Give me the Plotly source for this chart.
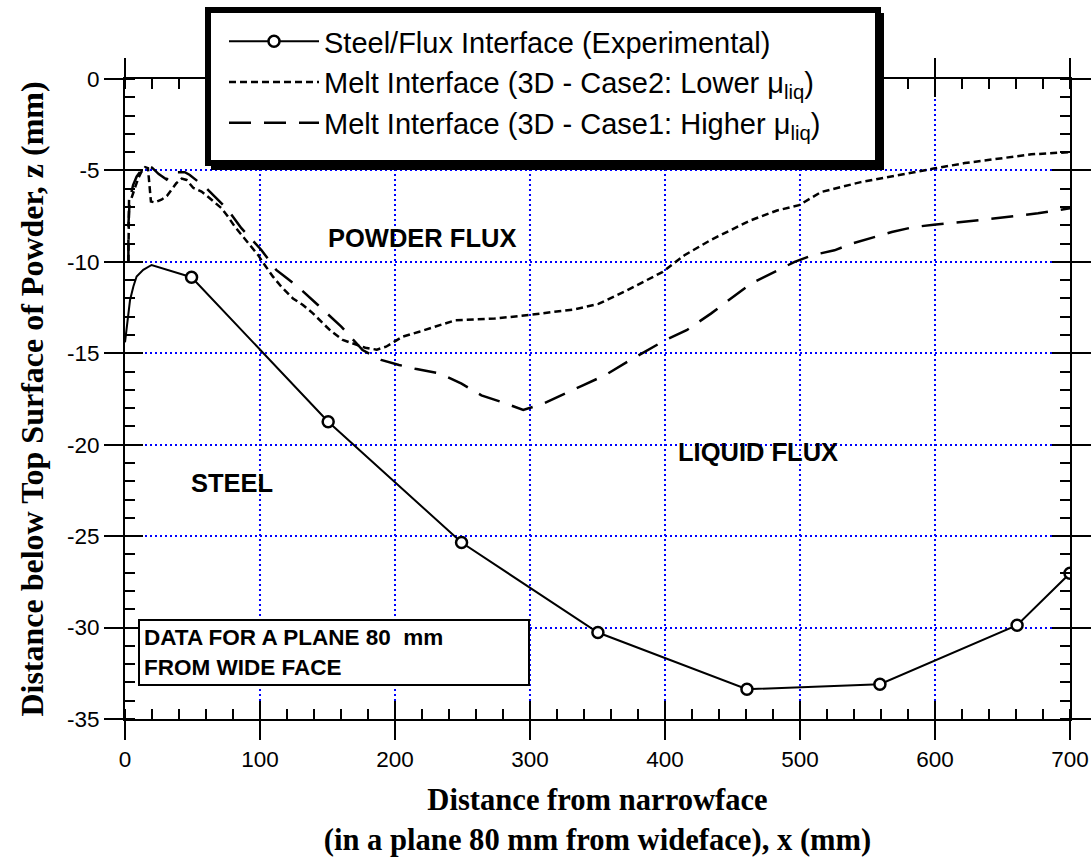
import plotly.graph_objects as go

# ---------------- data ----------------
# Experimental steel/flux interface: smooth lead-in near the narrow face, then measured points
exp_lead_x = [0.0, 1.7, 3.7, 6.2, 8.6, 13.5, 19.7, 49.3]
exp_lead_y = [-14.4, -13.2, -12.1, -11.35, -10.8, -10.44, -10.17, -10.84]
exp_x = [49.3, 150.5, 249.3, 350.3, 460.7, 559.2, 660.8, 700.0]
exp_y = [-10.84, -18.74, -25.35, -30.27, -33.37, -33.1, -29.87, -27.03]

# Melt interface, 3D Case2 (lower viscosity)
case2_x = [2.5, 2.5, 3.0, 4.4, 6.5, 9.8, 12.0, 15.0, 17.0, 19.2, 22.0, 27.0, 31.0, 34.5, 38.0,
           42.0, 45.6, 50.5, 56.7, 62.8, 71.5, 76.3, 81.3, 87.4, 93.6, 98.5, 103.5, 109.6,
           115.8, 124.4, 131.8, 139.0, 146.6, 152.8, 161.3, 171.2, 178.0, 186.5, 193.4, 199.6,
           205.7, 218.0, 244.4, 273.9, 300.0, 332.7, 350.7, 372.0, 398.0, 414.4, 434.0, 463.4,
           483.0, 499.3, 515.7, 545.0, 571.0, 599.0, 622.0, 646.7, 671.3, 700.0]
case2_y = [-10.0, -8.3, -6.6, -6.6, -6.1, -5.43, -5.1, -4.82, -4.87, -6.7, -6.75, -6.6, -6.4,
           -6.03, -5.7, -5.45, -5.52, -5.95, -6.16, -6.52, -7.07, -7.53, -8.07, -8.62, -9.17,
           -9.62, -10.17, -10.81, -11.36, -12.0, -12.36, -12.8, -13.36, -13.8, -14.27, -14.54,
           -14.7, -14.8, -14.64, -14.36, -14.09, -13.82, -13.2, -13.1, -12.9, -12.6, -12.3,
           -11.55, -10.56, -9.64, -8.8, -7.73, -7.19, -6.9, -6.18, -5.64, -5.27, -4.9, -4.6,
           -4.34, -4.12, -4.0]

# Melt interface, 3D Case1 (higher viscosity)
case1_x = [2.5, 2.5, 3.5, 6.0, 8.6, 12.0, 16.0, 20.0, 25.0, 30.8, 35.0, 44.3, 48.0, 60.4, 76.3,
           86.2, 101.0, 112.0, 120.0, 129.3, 142.9, 160.2, 176.0, 189.7, 203.0, 215.0, 233.0,
           249.3, 264.0, 280.4, 295.0, 309.8, 339.2, 355.6, 372.0, 385.0, 399.7, 416.0, 434.0,
           463.4, 478.0, 496.0, 509.0, 525.5, 538.5, 568.0, 584.0, 599.0, 634.4, 676.3, 700.0]
case1_y = [-10.0, -8.0, -6.6, -5.8, -5.34, -5.0, -4.79, -4.85, -5.2, -5.5, -5.1, -5.1, -5.25,
           -5.98, -7.16, -8.16, -9.35, -10.44, -10.9, -11.44, -12.36, -13.54, -14.82, -15.36,
           -15.64, -15.85, -16.1, -16.66, -17.3, -17.7, -18.1, -17.75, -16.75, -16.2, -15.47,
           -14.93, -14.3, -13.74, -12.83, -11.2, -10.65, -10.0, -9.64, -9.37, -9.0, -8.37,
           -8.1, -7.97, -7.71, -7.34, -7.07]

series_names = [
    "Steel/Flux Interface (Experimental)",
    "Melt Interface (3D - Case2: Lower \u03bc<sub>liq</sub>)",
    "Melt Interface (3D - Case1: Higher \u03bc<sub>liq</sub>)",
]

x_tick_vals = [0, 100, 200, 300, 400, 500, 600, 700]
x_tick_text = ["0", "100", "200", "300", "400", "500", "600", "700"]
y_tick_vals = [-35, -30, -25, -20, -15, -10, -5, 0]
y_tick_text = ["-35", "-30", "-25", "-20", "-15", "-10", "-5", "0"]

x_title = "Distance from narrowface<br>(in a plane 80 mm from wideface), x (mm)"
y_title = "Distance below Top Surface of Powder, z (mm)"

region_labels = ["POWDER FLUX", "LIQUID FLUX", "STEEL"]
region_x = [220, 469, 79]
region_y = [-8.7, -20.4, -22.1]
note_text = "DATA FOR A PLANE 80  mm<br>FROM WIDE FACE"

# ---------------- figure ----------------
W, H = 1092, 863
ML, MR, MT, MB = 125, 22, 79, 144
PW, PH = W - ML - MR, H - MT - MB


def px2paper_x(px):
    return (px - ML) / PW


def px2paper_y(py):
    return 1 - (py - MT) / PH


fig = go.Figure()

fig.add_trace(go.Scatter(
    x=exp_lead_x, y=exp_lead_y, mode="lines",
    line=dict(color="black", width=2), showlegend=False, legendgroup="exp",
    hoverinfo="skip"))
fig.add_trace(go.Scatter(
    x=exp_x, y=exp_y, mode="lines+markers", name=series_names[0], legendgroup="exp",
    line=dict(color="black", width=2),
    marker=dict(symbol="circle", size=11, color="white", line=dict(color="black", width=2.5))))
fig.add_trace(go.Scatter(
    x=case2_x, y=case2_y, mode="lines", name=series_names[1],
    line=dict(color="black", width=2.5, dash="7px,4px")))
fig.add_trace(go.Scatter(
    x=case1_x, y=case1_y, mode="lines", name=series_names[2],
    line=dict(color="black", width=2.5, dash="22px,13px")))
# empty trace that carries the inner half of the crossing major ticks
fig.add_trace(go.Scatter(x=[], y=[], xaxis="x2", yaxis="y2", showlegend=False,
                         hoverinfo="skip"))

tick_font = dict(family="Liberation Sans, Arial, sans-serif", size=22.5, color="black")
grid_common = dict(showgrid=True, gridcolor="#0000FF", griddash="2px,3px", gridwidth=2)

fig.update_layout(
    template="none",
    width=W, height=H,
    margin=dict(l=ML, r=MR, t=MT, b=MB, pad=0),
    paper_bgcolor="white", plot_bgcolor="white",
    font=dict(family="Liberation Sans, Arial, sans-serif", color="black"),
    xaxis=dict(
        range=[0, 700], tickmode="array", tickvals=x_tick_vals, ticktext=x_tick_text,
        ticks="outside", ticklen=19, tickwidth=2, tickcolor="black", automargin=False,
        ticklabeloverflow="allow",
        showline=True, linewidth=2, linecolor="black", mirror="ticks",
        zeroline=False, tickfont=tick_font, **grid_common,
        minor=dict(ticks="inside", tickmode="linear", tick0=0, dtick=20, ticklen=10,
                   tickwidth=2, tickcolor="black", showgrid=False),
        title=dict(text=x_title, standoff=18,
                   font=dict(family="Liberation Serif, Times New Roman, serif", size=30.6,
                             weight="bold", color="black")),
    ),
    yaxis=dict(
        range=[-35, 0], tickmode="array", tickvals=y_tick_vals, ticktext=y_tick_text,
        ticks="outside", ticklen=19, tickwidth=2, tickcolor="black", automargin=False,
        ticklabeloverflow="allow",
        showline=True, linewidth=2, linecolor="black", mirror="ticks",
        zeroline=False, tickfont=tick_font, **grid_common,
        minor=dict(ticks="inside", tickmode="linear", tick0=0, dtick=1, ticklen=10,
                   tickwidth=2, tickcolor="black", showgrid=False),
        title=dict(text=y_title, standoff=14,
                   font=dict(family="Liberation Serif, Times New Roman, serif", size=32,
                             weight="bold", color="black")),
    ),
    xaxis2=dict(
        overlaying="x", anchor="y2", range=[0, 700], tickmode="array", tickvals=x_tick_vals,
        ticks="inside", ticklen=18, tickwidth=2, tickcolor="black", showticklabels=False,
        showline=False, showgrid=False, zeroline=False, mirror="ticks", automargin=False,
    ),
    yaxis2=dict(
        overlaying="y", anchor="x2", range=[-35, 0], tickmode="array", tickvals=y_tick_vals,
        ticks="inside", ticklen=18, tickwidth=2, tickcolor="black", showticklabels=False,
        showline=False, showgrid=False, zeroline=False, mirror="ticks", automargin=False,
    ),
    legend=dict(
        x=px2paper_x(224), y=px2paper_y(16), xanchor="left", yanchor="top",
        bgcolor="rgba(0,0,0,0)", borderwidth=0, itemwidth=90, traceorder="normal",
        font=dict(family="Liberation Sans, Arial, sans-serif", size=29, color="black"),
    ),
    showlegend=True,
)

# legend frame with drop shadow
fig.add_shape(type="rect", xref="paper", yref="paper", layer="above",
              x0=px2paper_x(211), x1=px2paper_x(884), y0=px2paper_y(170), y1=px2paper_y(13),
              fillcolor="black", line=dict(width=0))
fig.add_shape(type="rect", xref="paper", yref="paper", layer="above",
              x0=px2paper_x(208), x1=px2paper_x(878), y0=px2paper_y(163), y1=px2paper_y(10),
              fillcolor="white", line=dict(color="black", width=6))

for txt, xv, yv in zip(region_labels, region_x, region_y):
    fig.add_annotation(x=xv, y=yv, xref="x", yref="y", text=txt, showarrow=False,
                       font=dict(family="Liberation Sans, Arial, sans-serif", size=25.5,
                                 weight="bold", color="black"))

fig.add_annotation(x=154.5, y=-31.36, xref="x", yref="y", text=note_text, showarrow=False,
                   align="left", width=380, height=55, borderpad=4, borderwidth=2,
                   bordercolor="black", bgcolor="white",
                   font=dict(family="Liberation Sans, Arial, sans-serif", size=22.5,
                             weight="bold", color="black"))

fig.write_html("out.html")
